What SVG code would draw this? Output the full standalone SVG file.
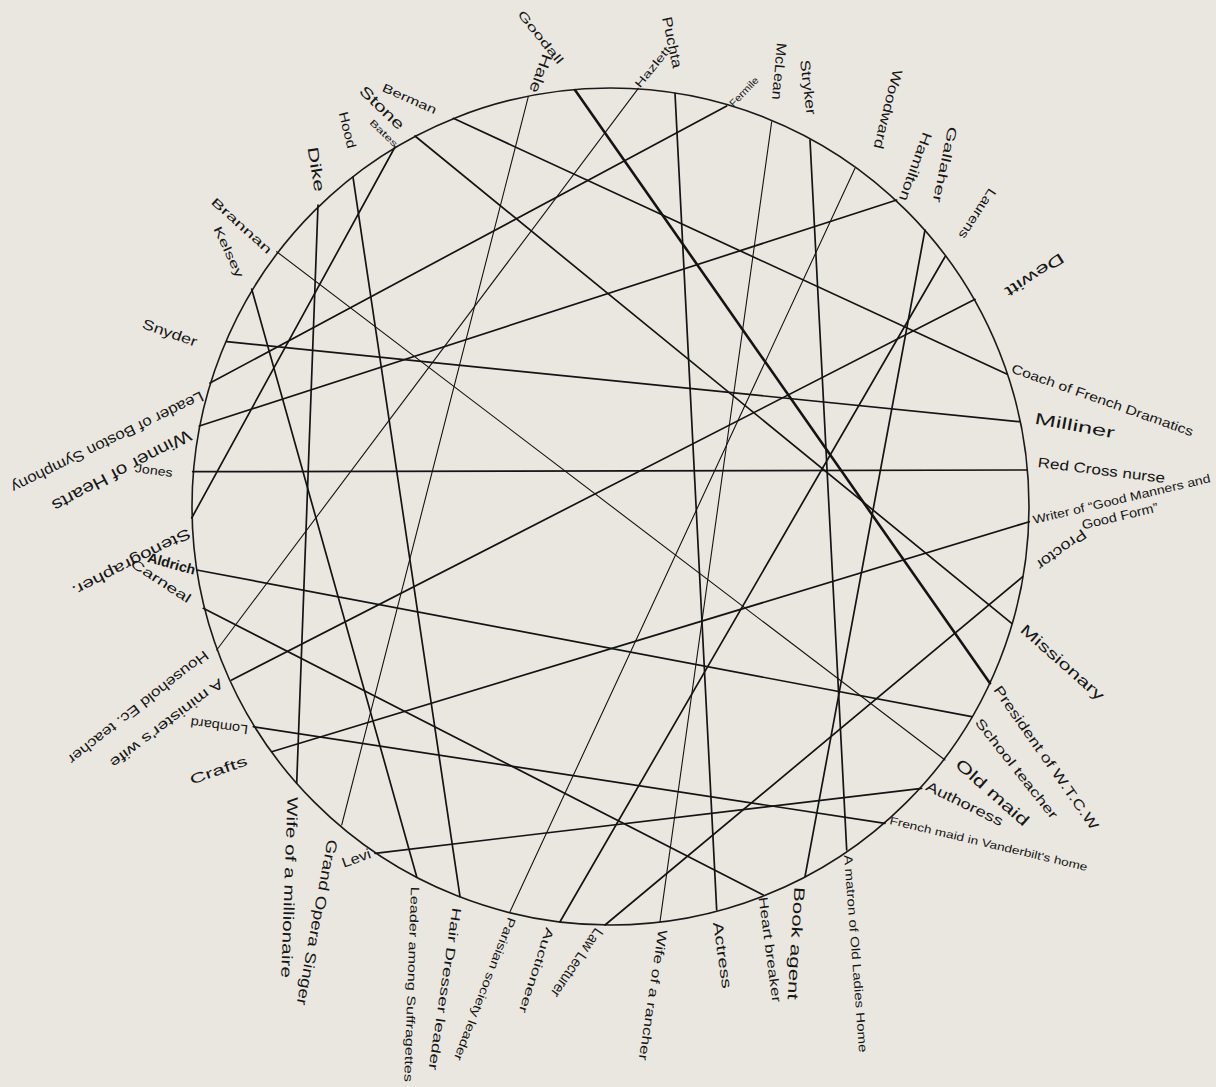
<svg xmlns="http://www.w3.org/2000/svg" width="1216" height="1087" viewBox="0 0 1216 1087">
<style>
.bg{fill:#e9e7e0}
.ring{fill:none;stroke:#1a1a1a;stroke-width:1.6}
.c line{stroke:#141414;stroke-width:1.7;stroke-linecap:round}
.c line.thin{stroke-width:1.1}
.c line.thick{stroke-width:2.6}
text{font-family:"Liberation Sans","DejaVu Sans",sans-serif;fill:#161616;dominant-baseline:central}
</style>
<rect class="bg" width="1216" height="1087"/>
<circle class="ring" cx="610.5" cy="506.5" r="418.5"/>
<g id="connectors" class="c">
<line x1="453.3" y1="118.3" x2="1006.7" y2="374"/>
<line x1="415" y1="136" x2="1011.7" y2="623.3"/>
<line x1="395" y1="147" x2="191.7" y2="518"/>
<line x1="353" y1="177" x2="460" y2="896.7"/>
<line x1="318" y1="205" x2="296.7" y2="783.3"/>
<line class="thin" x1="276.7" y1="251.7" x2="945" y2="760"/>
<line x1="251.7" y1="289" x2="416.7" y2="876.7"/>
<line class="thin" x1="528.3" y1="96.7" x2="341.7" y2="825"/>
<line class="thick" x1="575" y1="90" x2="990" y2="683.3"/>
<line class="thin" x1="638.3" y1="88.3" x2="216.7" y2="650"/>
<line x1="675" y1="93.3" x2="716.7" y2="910"/>
<line x1="726.7" y1="106" x2="210" y2="383"/>
<line class="thin" x1="771.7" y1="121.7" x2="660" y2="921.7"/>
<line x1="810" y1="140" x2="846.7" y2="850"/>
<line class="thin" x1="855" y1="168.3" x2="510" y2="911.7"/>
<line x1="896.7" y1="200" x2="199.3" y2="426"/>
<line x1="925" y1="230" x2="805" y2="876.7"/>
<line x1="945" y1="256.7" x2="560" y2="921.7"/>
<line x1="975" y1="299.3" x2="231.7" y2="680"/>
<line x1="226.7" y1="341.7" x2="1019.3" y2="421.7"/>
<line x1="192.7" y1="471.7" x2="1027.3" y2="470"/>
<line x1="271.7" y1="751.7" x2="1029.3" y2="521.7"/>
<line x1="1022.7" y1="576.7" x2="605" y2="925"/>
<line x1="196.7" y1="570" x2="971.7" y2="716.7"/>
<line x1="375" y1="853.3" x2="921.7" y2="788.3"/>
<line x1="253.3" y1="726.7" x2="885" y2="823.3"/>
<line x1="203.3" y1="608.3" x2="763.3" y2="895"/>
</g>
<g id="n-berman"><text font-size="12" transform="translate(383,87) rotate(24)" textLength="58" lengthAdjust="spacingAndGlyphs">Berman</text></g>
<g id="n-stone"><text font-size="15" transform="translate(362,88) rotate(44)" textLength="56" lengthAdjust="spacingAndGlyphs">Stone</text></g>
<g id="n-bates"><text font-size="9" transform="translate(371,121) rotate(44)" textLength="35" lengthAdjust="spacingAndGlyphs">Bates</text></g>
<g id="n-hood"><text font-size="13" transform="translate(343,112) rotate(76)" textLength="37" lengthAdjust="spacingAndGlyphs">Hood</text></g>
<g id="n-dike"><text font-size="15" transform="translate(313,147) rotate(81)" textLength="45" lengthAdjust="spacingAndGlyphs">Dike</text></g>
<g id="n-brannan"><text font-size="12" transform="translate(213,200) rotate(42)" textLength="77" lengthAdjust="spacingAndGlyphs">Brannan</text></g>
<g id="n-kelsey"><text font-size="12" transform="translate(217,227) rotate(65)" textLength="55" lengthAdjust="spacingAndGlyphs">Kelsey</text></g>
<g id="n-goodall"><text font-size="12" transform="translate(520,12) rotate(51)" textLength="65" lengthAdjust="spacingAndGlyphs">Goodall</text></g>
<g id="n-hale"><text font-size="15" transform="translate(548,55) rotate(110)" textLength="40" lengthAdjust="spacingAndGlyphs">Hale</text></g>
<g id="n-puchta"><text font-size="14" transform="translate(667,17) rotate(78)" textLength="52" lengthAdjust="spacingAndGlyphs">Puchta</text></g>
<g id="n-hazlett"><text font-size="11" transform="translate(637,86) rotate(-51)" textLength="49" lengthAdjust="spacingAndGlyphs">Hazlett</text></g>
<g id="n-mclean"><text font-size="14" transform="translate(782,43) rotate(95)" textLength="57" lengthAdjust="spacingAndGlyphs">McLean</text></g>
<g id="n-fermile"><text font-size="10" transform="translate(731,105) rotate(-46)" textLength="37" lengthAdjust="spacingAndGlyphs">Fermile</text></g>
<g id="n-stryker"><text font-size="14" transform="translate(805,60) rotate(83)" textLength="55" lengthAdjust="spacingAndGlyphs">Stryker</text></g>
<g id="n-woodward"><text font-size="14" transform="translate(898,70) rotate(104)" textLength="81" lengthAdjust="spacingAndGlyphs">Woodward</text></g>
<g id="n-gallaher"><text font-size="13" transform="translate(953,127) rotate(102)" textLength="77" lengthAdjust="spacingAndGlyphs">Gallaher</text></g>
<g id="n-hamilton"><text font-size="14" transform="translate(928,133) rotate(110)" textLength="72" lengthAdjust="spacingAndGlyphs">Hamilton</text></g>
<g id="n-laurens"><text font-size="13" transform="translate(993,190) rotate(123)" textLength="57" lengthAdjust="spacingAndGlyphs">Laurens</text></g>
<g id="n-dewitt"><text font-size="15" transform="translate(1063,257) rotate(147)" textLength="67" lengthAdjust="spacingAndGlyphs">Dewitt</text></g>
<g id="n-coach"><text font-size="13" transform="translate(1012,368) rotate(19.5)" textLength="192" lengthAdjust="spacingAndGlyphs">Coach of French Dramatics</text></g>
<g id="n-milliner"><text font-size="16" transform="translate(1035,418) rotate(10.6)" textLength="81" lengthAdjust="spacingAndGlyphs">Milliner</text></g>
<g id="n-redcross"><text font-size="14" transform="translate(1038,462) rotate(7.2)" textLength="128" lengthAdjust="spacingAndGlyphs">Red Cross nurse</text></g>
<g id="n-writer"><text font-size="12" transform="translate(1033,520) rotate(-13.3)" textLength="182" lengthAdjust="spacingAndGlyphs">Writer of “Good Manners and</text><text font-size="13" transform="translate(1082,525) rotate(-13.3)" textLength="78" lengthAdjust="spacingAndGlyphs">Good Form”</text></g>
<g id="n-proctor"><text font-size="15" transform="translate(1085,533) rotate(144)" textLength="58" lengthAdjust="spacingAndGlyphs">Proctor</text></g>
<g id="n-missionary"><text font-size="15" transform="translate(1023,627) rotate(41.5)" textLength="106" lengthAdjust="spacingAndGlyphs">Missionary</text></g>
<g id="n-president"><text font-size="14" transform="translate(997,687) rotate(55)" textLength="172" lengthAdjust="spacingAndGlyphs">President of W.T.C.W</text></g>
<g id="n-school"><text font-size="13" transform="translate(978,720) rotate(51.6)" textLength="124" lengthAdjust="spacingAndGlyphs">School teacher</text></g>
<g id="n-oldmaid"><text font-size="16" transform="translate(958,762) rotate(41.5)" textLength="92" lengthAdjust="spacingAndGlyphs">Old maid</text></g>
<g id="n-authoress"><text font-size="14" transform="translate(927,785) rotate(26)" textLength="84" lengthAdjust="spacingAndGlyphs">Authoress</text></g>
<g id="n-frenchmaid"><text font-size="11" transform="translate(890,820) rotate(13.4)" textLength="203" lengthAdjust="spacingAndGlyphs">French maid in Vanderbilt's home</text></g>
<g id="n-matron"><text font-size="12" transform="translate(848,855) rotate(85.6)" textLength="198" lengthAdjust="spacingAndGlyphs">A matron of Old Ladies Home</text></g>
<g id="n-bookagent"><text font-size="15" transform="translate(800,887) rotate(93.5)" textLength="113" lengthAdjust="spacingAndGlyphs">Book agent</text></g>
<g id="n-heartbreaker"><text font-size="13" transform="translate(763,897) rotate(82.4)" textLength="106" lengthAdjust="spacingAndGlyphs">Heart breaker</text></g>
<g id="n-actress"><text font-size="14" transform="translate(718,922) rotate(82)" textLength="67" lengthAdjust="spacingAndGlyphs">Actress</text></g>
<g id="n-rancher"><text font-size="13" transform="translate(663,930) rotate(98.7)" textLength="132" lengthAdjust="spacingAndGlyphs">Wife of a rancher</text></g>
<g id="n-lawlecturer"><text font-size="15" transform="translate(600,930) rotate(124.6)" textLength="80" lengthAdjust="spacingAndGlyphs">Law Lecturer</text></g>
<g id="n-auctioneer"><text font-size="12" transform="translate(550,928) rotate(108)" textLength="89" lengthAdjust="spacingAndGlyphs">Auctioneer</text></g>
<g id="n-parisian"><text font-size="12" transform="translate(512,918) rotate(111)" textLength="152" lengthAdjust="spacingAndGlyphs">Parisian society leader</text></g>
<g id="n-hairdresser"><text font-size="13" transform="translate(457,908) rotate(98.4)" textLength="164" lengthAdjust="spacingAndGlyphs">Hair Dresser leader</text></g>
<g id="n-suffragettes"><text font-size="12" transform="translate(415,887) rotate(92)" textLength="195" lengthAdjust="spacingAndGlyphs">Leader among Suffragettes</text></g>
<g id="n-opera"><text font-size="15" transform="translate(333,840) rotate(100.6)" textLength="168" lengthAdjust="spacingAndGlyphs">Grand Opera Singer</text></g>
<g id="n-levi"><text font-size="14" transform="translate(342,863) rotate(-19.6)" textLength="30" lengthAdjust="spacingAndGlyphs">Levi</text></g>
<g id="n-millionaire"><text font-size="15" transform="translate(293,797) rotate(92)" textLength="181" lengthAdjust="spacingAndGlyphs">Wife of a millionaire</text></g>
<g id="n-crafts"><text font-size="14" transform="translate(190,780) rotate(-19.3)" textLength="60" lengthAdjust="spacingAndGlyphs">Crafts</text></g>
<g id="n-lombard"><text font-size="13" transform="translate(248,730) rotate(187.6)" textLength="58" lengthAdjust="spacingAndGlyphs">Lombard</text></g>
<g id="n-minister"><text font-size="14" transform="translate(222,682) rotate(143)" textLength="138" lengthAdjust="spacingAndGlyphs">A minister's wife</text></g>
<g id="n-household"><text font-size="14" transform="translate(207,654) rotate(142)" textLength="174" lengthAdjust="spacingAndGlyphs">Household Ec. teacher</text></g>
<g id="n-stenographer"><text font-size="15" transform="translate(190,533) rotate(153)" textLength="131" lengthAdjust="spacingAndGlyphs">Stenographer.</text></g>
<g id="n-aldrich"><text font-size="14" font-weight="bold" transform="translate(148,557) rotate(15.5)" textLength="49" lengthAdjust="spacingAndGlyphs">Aldrich</text></g>
<g id="n-carneal"><text font-size="13" transform="translate(132,562) rotate(33)" textLength="69" lengthAdjust="spacingAndGlyphs">Carneal</text></g>
<g id="n-jones"><text font-size="12" transform="translate(135,468) rotate(7.5)" textLength="38" lengthAdjust="spacingAndGlyphs">Jones</text></g>
<g id="n-winner"><text font-size="17" transform="translate(190,434) rotate(152)" textLength="155" lengthAdjust="spacingAndGlyphs">Winner of Hearts</text></g>
<g id="n-boston"><text font-size="15" transform="translate(203,396) rotate(154)" textLength="212" lengthAdjust="spacingAndGlyphs">Leader of Boston Symphony</text></g>
<g id="n-snyder"><text font-size="14" transform="translate(143,323) rotate(19.4)" textLength="57" lengthAdjust="spacingAndGlyphs">Snyder</text></g>
</svg>
